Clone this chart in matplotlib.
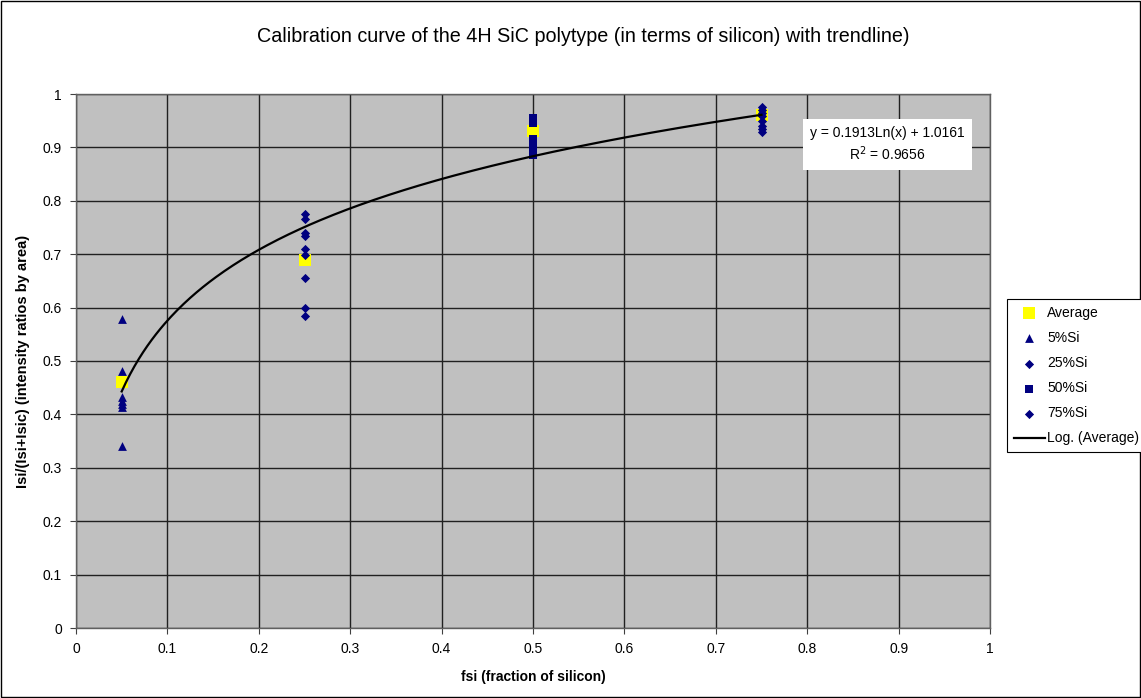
import matplotlib
matplotlib.use("Agg")
import matplotlib.pyplot as plt
import numpy as np
from matplotlib.patches import Rectangle

plt.rcParams['font.family'] = ['Liberation Sans', 'DejaVu Sans']

# ---- data ----
avg_x = [0.05, 0.25, 0.50, 0.75]
avg_y = [0.46, 0.69, 0.93, 0.96]

si5_x = [0.05] * 7
si5_y = [0.578, 0.482, 0.432, 0.425, 0.420, 0.414, 0.341]

si25_x = [0.25] * 9
si25_y = [0.776, 0.765, 0.740, 0.735, 0.709, 0.698, 0.655, 0.600, 0.585]

si50_x = [0.50] * 7
si50_y = [0.955, 0.945, 0.915, 0.905, 0.897, 0.890, 0.886]

si75_x = [0.75] * 8
si75_y = [0.976, 0.970, 0.964, 0.958, 0.950, 0.941, 0.935, 0.929]

trend_a = 0.1913
trend_b = 1.0161
r2 = 0.9656

x_ticks = [0, 0.1, 0.2, 0.3, 0.4, 0.5, 0.6, 0.7, 0.8, 0.9, 1]
x_ticklabels = ['0', '0.1', '0.2', '0.3', '0.4', '0.5', '0.6', '0.7', '0.8', '0.9', '1']
y_ticks = [0, 0.1, 0.2, 0.3, 0.4, 0.5, 0.6, 0.7, 0.8, 0.9, 1]
y_ticklabels = ['0', '0.1', '0.2', '0.3', '0.4', '0.5', '0.6', '0.7', '0.8', '0.9', '1']

# ---- figure ----
W, H = 1141, 698
fig = plt.figure(figsize=(W / 100, H / 100), dpi=100)
ax = fig.add_axes([76 / W, 1 - 628 / H, (990 - 76) / W, (628 - 94) / H])
ax.set_facecolor('#C0C0C0')
navy = '#000080'

ax.scatter(avg_x, avg_y, marker='s', s=70, color='#FFFF00', zorder=3, label='Average', linewidths=0)
ax.scatter(si5_x, si5_y, marker='^', s=40, color=navy, zorder=4, label='5%Si', linewidths=0)
ax.scatter(si25_x, si25_y, marker='D', s=22, color=navy, zorder=4, label='25%Si', linewidths=0)
ax.scatter(si50_x, si50_y, marker='s', s=40, color=navy, zorder=4, label='50%Si', linewidths=0)
ax.scatter(si75_x, si75_y, marker='D', s=22, color=navy, zorder=4, label='75%Si', linewidths=0)

xs = np.linspace(min(avg_x), max(avg_x), 300)
ax.plot(xs, trend_a * np.log(xs) + trend_b, color='black', lw=1.6, zorder=5, label='Log. (Average)')

ax.set_xlim(0, 1)
ax.set_ylim(0, 1)
ax.set_xticks(x_ticks)
ax.set_xticklabels(x_ticklabels)
ax.set_yticks(y_ticks)
ax.set_yticklabels(y_ticklabels)
ax.grid(True, color='#202020', lw=1)
ax.set_axisbelow(True)
ax.tick_params(direction='out', length=4, labelsize=10, color='#404040', pad=6)
for s in ax.spines.values():
    s.set_color('#606060')
    s.set_linewidth(1)

ax.set_xlabel('fsi (fraction of silicon)', fontsize=10, fontweight='bold', labelpad=10)
ax.set_ylabel('Isi/(Isi+Isic) (intensity ratios by area)', fontsize=10.5, fontweight='bold', labelpad=9)
fig.text(583 / W, 1 - 36 / H, 'Calibration curve of the 4H SiC polytype (in terms of silicon) with trendline)',
         ha='center', va='center', fontsize=14.2)

ax.text(0.888, 0.906, 'y = 0.1913Ln(x) + 1.0161\nR$^2$ = 0.9656', transform=ax.transData,
        ha='center', va='center', fontsize=10, linespacing=1.3,
        bbox=dict(facecolor='white', edgecolor='none', boxstyle='square,pad=0.5'), zorder=6)

leg = fig.legend(loc='upper left', bbox_to_anchor=(1007 / W, 1 - 299 / H), fontsize=10,
                 frameon=True, fancybox=False, edgecolor='black', framealpha=1,
                 handlelength=2.2, handletextpad=0.2, labelspacing=0.8, borderpad=0.5,
                 borderaxespad=0, scatterpoints=1)
leg.get_frame().set_linewidth(0.8)

fig.patches.append(Rectangle((1 / W, 1 / H), 1 - 2 / W, 1 - 2 / H, transform=fig.transFigure,
                             fill=False, edgecolor='black', lw=1))

fig.savefig('out.png', dpi=100)
